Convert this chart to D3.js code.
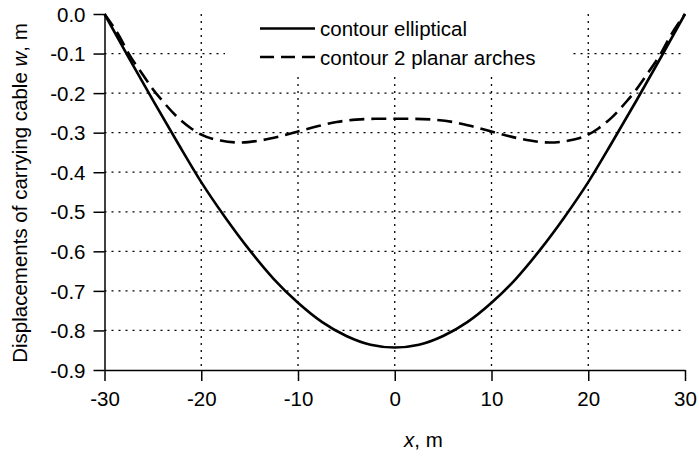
<!DOCTYPE html>
<html>
<head>
<meta charset="utf-8">
<script src="https://cdn.jsdelivr.net/npm/d3@7"></script>
<style>
  body { margin: 0; background: #fff; }
  text { font-family: "Liberation Sans", Arial, sans-serif; fill: #000; }
</style>
</head>
<body>
<svg id="chart" width="699" height="459"></svg>
<script>
//values
var ellipX = [-30, -27.5, -25, -22.5, -20, -17.5, -15, -12.5, -10, -7.5, -5, -2.5, 0,
              2.5, 5, 7.5, 10, 12.5, 15, 17.5, 20, 22.5, 25, 27.5, 30];
var ellipW = [0, -0.110, -0.218, -0.323, -0.425, -0.515, -0.597, -0.670, -0.730, -0.779, -0.814, -0.836, -0.843,
              -0.836, -0.814, -0.779, -0.730, -0.670, -0.597, -0.515, -0.425, -0.323, -0.218, -0.110, 0];

var archX = [-30, -28.5, -27.5, -26, -25, -24, -22.5, -21, -20, -18, -16, -14, -12, -10, -8, -6, -4, -2, 0,
             2, 4, 6, 8, 10, 12, 14, 16, 18, 20, 21, 22.5, 24, 25, 26, 27.5, 28.5, 30];
var archW = [0, -0.055, -0.100, -0.155, -0.190, -0.220, -0.260, -0.290, -0.305, -0.320, -0.325, -0.320, -0.310,
             -0.297, -0.284, -0.273, -0.267, -0.265, -0.265,
             -0.265, -0.267, -0.273, -0.284, -0.297, -0.310, -0.320, -0.325, -0.320, -0.305, -0.290, -0.260,
             -0.220, -0.190, -0.155, -0.100, -0.055, 0];

var xTicks = [-30, -20, -10, 0, 10, 20, 30];
var yTicks = [0, -0.1, -0.2, -0.3, -0.4, -0.5, -0.6, -0.7, -0.8, -0.9];
var legendNames = ["contour elliptical", "contour 2 planar arches"];

var fontSize = "20.5px";
var margin = {top: 14, right: 14, bottom: 89, left: 104.5};
var width = 699 - margin.left - margin.right;
var height = 459 - margin.top - margin.bottom;

var svg = d3.select("#chart");
var g = svg.append("g").attr("transform", "translate(" + margin.left + "," + margin.top + ")");

var x = d3.scaleLinear().domain([-30, 30]).range([0, width]);
var y = d3.scaleLinear().domain([-0.9, 0]).range([height, 0]);

//dotted grid
g.selectAll(".vgrid")
  .data(xTicks.filter(function(d) { return d > -30 && d < 30; }))
  .enter().append("line")
  .attr("x1", function(d) { return x(d); })
  .attr("x2", function(d) { return x(d); })
  .attr("y1", 0)
  .attr("y2", height)
  .attr("stroke", "#000")
  .attr("stroke-width", 1.3)
  .attr("stroke-dasharray", "2,5");

g.selectAll(".hgrid")
  .data(yTicks.filter(function(d) { return d < 0 && d > -0.9; }))
  .enter().append("line")
  .attr("x1", 0)
  .attr("x2", width)
  .attr("y1", function(d) { return y(d); })
  .attr("y2", function(d) { return y(d); })
  .attr("stroke", "#000")
  .attr("stroke-width", 1.3)
  .attr("stroke-dasharray", "2,5");

//axes
var xAxis = d3.axisBottom(x).tickValues(xTicks).tickSize(11).tickSizeOuter(0).tickPadding(10)
  .tickFormat(function(d) { return String(d); });
var yAxis = d3.axisLeft(y).tickValues(yTicks).tickSize(11).tickSizeOuter(0).tickPadding(8)
  .tickFormat(function(d) { return d.toFixed(1); });

var gx = g.append("g").attr("transform", "translate(0," + height + ")").call(xAxis);
var gy = g.append("g").call(yAxis);
[gx, gy].forEach(function(a) {
  a.selectAll("path, line").attr("stroke", "#000").attr("stroke-width", 1.5);
  a.selectAll("text").style("font-size", fontSize).attr("fill", "#000");
});
gy.selectAll("text").attr("dy", "0.35em");

//legend box hides the grid behind it
var leg = svg.append("g");
leg.append("rect")
  .attr("x", 225).attr("y", 14)
  .attr("width", 345).attr("height", 60)
  .attr("fill", "#fff");

var styles = [null, "14,7"];
legendNames.forEach(function(name, i) {
  var ly = 28.5 + i * 28.5;
  leg.append("line")
    .attr("x1", 260).attr("x2", 315)
    .attr("y1", ly).attr("y2", ly)
    .attr("stroke", "#000")
    .attr("stroke-width", 2.5)
    .attr("stroke-dasharray", styles[i]);
  leg.append("text")
    .attr("x", 320).attr("y", ly + 7.5)
    .style("font-size", fontSize)
    .text(name);
});

//curves
var line = d3.line()
  .x(function(d) { return x(d[0]); })
  .y(function(d) { return y(d[1]); })
  .curve(d3.curveMonotoneX);

g.append("path")
  .datum(d3.zip(ellipX, ellipW))
  .attr("d", line)
  .attr("fill", "none")
  .attr("stroke", "#000")
  .attr("stroke-width", 2.6);

g.append("path")
  .datum(d3.zip(archX, archW))
  .attr("d", line)
  .attr("fill", "none")
  .attr("stroke", "#000")
  .attr("stroke-width", 2.6)
  .attr("stroke-dasharray", "15,7");

//axis titles
var ylab = svg.append("text")
  .attr("transform", "translate(27," + (margin.top + height / 2 + 1) + ") rotate(-90)")
  .attr("text-anchor", "middle")
  .style("font-size", fontSize);
ylab.append("tspan").text("Displacements of carrying cable ");
ylab.append("tspan").style("font-style", "italic").text("w");
ylab.append("tspan").text(", m");

var xlab = svg.append("text")
  .attr("x", 404)
  .attr("y", 447)
  .style("font-size", fontSize);
xlab.append("tspan").style("font-style", "italic").text("x");
xlab.append("tspan").text(", m");
</script>
</body>
</html>
